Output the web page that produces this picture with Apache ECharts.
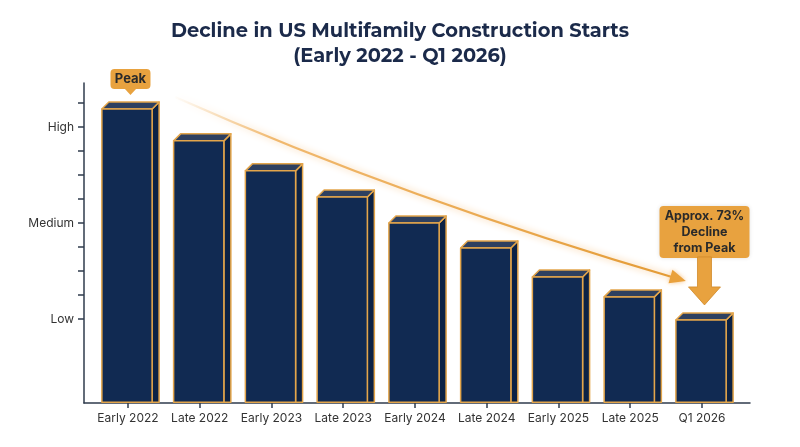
<!DOCTYPE html>
<html><head><meta charset="utf-8">
<script src="https://cdn.jsdelivr.net/npm/echarts@6/dist/echarts.min.js"></script>
<style>html,body{margin:0;padding:0;background:#fff}#c{width:800px;height:447px}</style>
</head><body><div id="c"></div>
<script>
const categories = ['Early 2022','Late 2022','Early 2023','Late 2023','Early 2024','Late 2024','Early 2025','Late 2025','Q1 2026'];
const starts = [12.25, 10.92, 9.67, 8.58, 7.5, 6.46, 5.25, 4.42, 3.46];
const levelTicks = [3.5, 4.5, 5.5, 6.5, 7.5, 8.5, 9.5, 10.5, 11.5, 12.5];
const levelLabelValues = [3.5, 7.5, 11.5];
const levelLabels = ['Low', 'Medium', 'High'];
const categoryIndex = [0, 1, 2, 3, 4, 5, 6, 7, 8];

const FONT = 'Inter, "Noto Sans", sans-serif';
const AXIS = '#2f3b4c';
const ORANGE = '#e8a23f';
const EDGE = '#e3a54b';
const DEPTH = 7;

const chart = echarts.init(document.getElementById('c'), null, {renderer: 'canvas'});

const option = {
  backgroundColor: '#ffffff',
  animation: false,
  title: {
    text: 'Decline in US Multifamily Construction Starts\n(Early 2022 - Q1 2026)',
    left: 'center', top: 14,
    textStyle: {fontFamily: 'Montserrat, Inter, sans-serif', fontSize: 19.4, fontWeight: 'bold', color: '#1b2a4a', lineHeight: 25}
  },
  grid: {left: 84, right: 50, top: 83, bottom: 44},
  xAxis: {
    type: 'value', min: -0.613, max: 8.669,
    axisLine: {show: true, onZero: false, lineStyle: {color: AXIS, width: 1.5}},
    axisTick: {show: true, customValues: categoryIndex, length: 5, lineStyle: {color: AXIS, width: 1.5}},
    axisLabel: {customValues: categoryIndex, formatter: v => categories[Math.round(v)], margin: 9,
      fontFamily: FONT, fontSize: 12, color: '#333'},
    splitLine: {show: false}
  },
  yAxis: {
    type: 'value', min: 0, max: 13.33,
    axisLine: {show: true, onZero: false, lineStyle: {color: AXIS, width: 1.5}},
    axisTick: {show: true, customValues: levelTicks, length: 6, lineStyle: {color: AXIS, width: 1.5}},
    axisLabel: {customValues: levelLabelValues, formatter: v => levelLabels[levelLabelValues.indexOf(v)],
      margin: 10, fontFamily: FONT, fontSize: 12, color: '#333'},
    splitLine: {show: false}
  },
  series: [{
    type: 'custom',
    data: starts.map((v, i) => [categoryIndex[i], v]),
    clip: false,
    renderItem(params, api) {
      const i = api.value(0), v = api.value(1);
      const top = api.coord([i, v]);
      const base = api.coord([i, 0]);
      const w = api.size([0.7, 0])[0];
      const x0 = top[0] - w / 2 - 1, x1 = x0 + w;
      const y0 = top[1], yb = base[1] - 0.75;
      const st = {stroke: EDGE, lineWidth: 1.5, lineJoin: 'round'};
      return {type: 'group', children: [
        {type: 'polygon', shape: {points: [[x1, y0], [x1 + DEPTH, y0 - DEPTH], [x1 + DEPTH, yb], [x1, yb]]},
          style: Object.assign({}, st, {fill: '#0c2245'})},
        {type: 'polygon', shape: {points: [[x0, y0], [x0 + DEPTH, y0 - DEPTH], [x1 + DEPTH, y0 - DEPTH], [x1, y0]]},
          style: Object.assign({}, st, {fill: '#2e4060'})},
        {type: 'rect', shape: {x: x0, y: y0, width: w, height: yb - y0},
          style: Object.assign({}, st, {fill: '#112a52'})}
      ]};
    }
  }]
};
chart.setOption(option);

// annotations anchored to the data coordinates
const px = p => chart.convertToPixel({gridIndex: 0}, p);
const first = px([0, starts[0]]);
const last = px([8, starts[8]]);
const fx = first[0] + DEPTH / 2 - 1, fy = first[1] - DEPTH;
const lx = last[0] + DEPTH / 2 - 1, ly = last[1] - DEPTH;

// trend curve from near peak to before last bar
const p0 = [first[0] + 47, first[1] - 12];
const p2 = [last[0] - 20, last[1] - 40];
const cp = [p0[0] + 0.455 * (p2[0] - p0[0]), p0[1] + 0.56 * (p2[1] - p0[1])];
const ang = Math.atan2(p2[1] - cp[1], p2[0] - cp[0]);
const hl = 16, hw = 7;
const tip = [p2[0] + Math.cos(ang) * 4, p2[1] + Math.sin(ang) * 4];
const bx = tip[0] - Math.cos(ang) * hl, by = tip[1] - Math.sin(ang) * hl;
const head = [tip,
  [bx + Math.sin(ang) * hw, by - Math.cos(ang) * hw],
  [bx - Math.sin(ang) * hw, by + Math.cos(ang) * hw]];

chart.setOption({graphic: [
  {type: 'bezierCurve', z: 10,
    shape: {x1: p0[0], y1: p0[1], cpx1: cp[0], cpy1: cp[1], x2: p2[0], y2: p2[1]},
    style: {fill: null, lineWidth: 2.2,
      stroke: {type: 'linear', x: 0, y: 0, x2: 1, y2: 0, colorStops: [
        {offset: 0, color: 'rgba(236,165,70,0)'},
        {offset: 0.2, color: 'rgba(236,165,70,0.75)'},
        {offset: 1, color: '#e39a33'}]},
      shadowBlur: 7, shadowColor: 'rgba(245,175,90,0.8)'}},
  {type: 'polygon', z: 10, shape: {points: head},
    style: {fill: '#e9a13c', shadowBlur: 4, shadowColor: 'rgba(245,175,90,0.6)'}},

  // Peak callout
  {type: 'rect', z: 11, shape: {x: fx - 20, y: fy - 33, width: 40, height: 20, r: 4}, style: {fill: ORANGE}},
  {type: 'polygon', z: 11, shape: {points: [[fx - 6, fy - 13.5], [fx + 6, fy - 13.5], [fx, fy - 7]]}, style: {fill: ORANGE}},
  {type: 'text', z: 12, x: fx, y: fy - 23,
    style: {text: 'Peak', fill: '#2a2a2a', font: 'bold 13px ' + FONT, align: 'center', verticalAlign: 'middle'}},

  // Decline callout
  {type: 'rect', z: 11, shape: {x: lx - 45, y: ly - 107, width: 90, height: 52, r: 4},
    style: {fill: ORANGE, shadowBlur: 4, shadowColor: 'rgba(0,0,0,0.12)'}},
  {type: 'polygon', z: 11, shape: {points: [
      [lx - 7, ly - 56], [lx + 7, ly - 56], [lx + 7, ly - 26], [lx + 16, ly - 26],
      [lx, ly - 8], [lx - 16, ly - 26], [lx - 7, ly - 26]]},
    style: {fill: ORANGE, stroke: '#d08a2a', lineWidth: 0.8}},
  {type: 'text', z: 12, x: lx, y: ly - 81,
    style: {text: 'Approx. 73%\nDecline\nfrom Peak', fill: '#2a2a2a', font: 'bold 12.5px ' + FONT,
      lineHeight: 16, align: 'center', verticalAlign: 'middle'}}
]});
</script>
</body></html>
